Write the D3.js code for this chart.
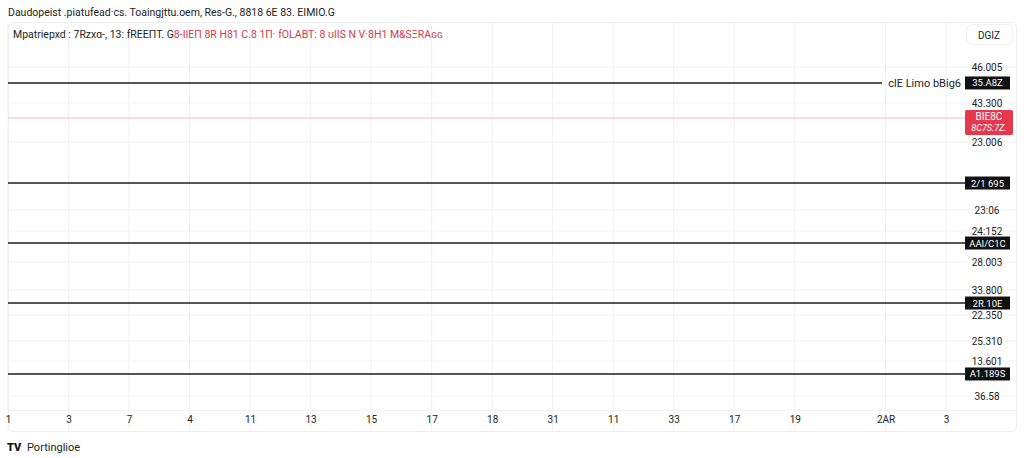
<!DOCTYPE html>
<html><head><meta charset="utf-8">
<script src="https://cdn.jsdelivr.net/npm/d3@7"></script>
<style>
html,body{margin:0;padding:0;background:#fff;}
svg{display:block;font-family:Roboto,"Liberation Sans",sans-serif;}
</style></head>
<body>
<svg id="c" width="1024" height="458"></svg>
<script>
// ---- data ----
const titleText = "Daudopeist .piatufead·cs. Toaingjttu.oem, Res-G., 8818 6E 83. ΕΙΜΙΟ.G";
const legendDark = "Mpatriepxd : 7Rzxɑ-, 13: fREEПT. G";
const legendRed = "8-IIEΠ 8R H81 C.8 1Π· fOLABT: 8 ʊIIS N V·8H1 M&SΞRAɢɢ";
const timeLabels = ["1","3","7","4","11","13","15","17","18","31","11","33","17","19","2AR","3"];
const timeIdx = [0,1,2,3,4,5,6,7,8,9,10,11,12,13,14.5,15.5];
const priceTicks = [44.75,42.15,39.34,34.43,32.92,30.68,28.66,26.86,24.98,23.54,21.00];
const priceTickLabels = ["46.005","43.300","23.006","23:06","24:152","28.003","33.800","22.350","25.310","13.601","36.58"];
const levelPrices = [43.60,36.38,32.05,27.72,22.60];
const levelTags = ["35.A8Z","2/1 695","AAI/C1C","2R.10E","A1.189S"];
const levelNotes = ["clE Limo bBig6","","","",""];
const lastPrice = 41.07;
const lastTag = ["BIE8C","8C7S:7Z."];
const corner = "DGIZ";
const footer = "Portinglioe";

// ---- layout ----
const svg = d3.select("#c");
const L = 8, R = 963, T = 22, B = 410;
const x = d3.scaleLinear().domain([0, 15.78]).range([L, R]);
const y = d3.scaleLinear().domain([20, 48]).range([B, T]);

// title
svg.append("text").attr("x",8).attr("y",16).attr("font-size",10.5).attr("fill","#222").text(titleText);

// pane border
svg.append("rect").attr("x",8.5).attr("y",22.5).attr("width",1008).attr("height",409)
  .attr("rx",5).attr("fill","none").attr("stroke","#ededed");

// grid
const g = svg.append("g");
g.selectAll(".vg").data(timeIdx).join("line")
  .attr("x1",d=>x(d)).attr("x2",d=>x(d)).attr("y1",T).attr("y2",432)
  .attr("stroke","#f0f0f0").attr("stroke-width",1);
g.selectAll(".hg").data(priceTicks).join("line")
  .attr("x1",L).attr("x2",1016).attr("y1",d=>y(d)).attr("y2",d=>y(d))
  .attr("stroke","#f3f3f3").attr("stroke-width",1);
svg.append("line").attr("x1",L).attr("x2",1016).attr("y1",B+0.5).attr("y2",B+0.5).attr("stroke","#f3f3f3");

// legend row
const lg = svg.append("text").attr("x",13).attr("y",38).attr("font-size",10.5);
lg.append("tspan").attr("fill","#222").text(legendDark);
lg.append("tspan").attr("fill","#d23a4f").text(legendRed);

// corner button
svg.append("rect").attr("x",966.5).attr("y",24.5).attr("width",46).attr("height",20).attr("rx",6)
  .attr("fill","#fff").attr("stroke","#efefef");
svg.append("text").attr("x",989).attr("y",39).attr("text-anchor","middle").attr("font-size",10).attr("fill","#222").text(corner);

// y-axis labels
const ya = d3.axisRight(y).tickValues(priceTicks).tickSize(0).tickPadding(0)
  .tickFormat((d,i)=>priceTickLabels[i]);
const yg = svg.append("g").attr("transform",`translate(987,0)`).call(ya);
yg.select(".domain").remove();
yg.selectAll("text").attr("text-anchor","middle").attr("font-size",10).attr("fill","#222")
  .attr("font-family","Roboto,'Liberation Sans',sans-serif");

// x-axis labels
const xa = d3.axisBottom(x).tickValues(timeIdx).tickSize(0).tickPadding(0)
  .tickFormat((d,i)=>timeLabels[i]);
const xg = svg.append("g").attr("transform",`translate(0,416)`).call(xa);
xg.select(".domain").remove();
xg.selectAll("text").attr("font-size",10).attr("fill","#222").attr("dy","0.71em")
  .attr("font-family","Roboto,'Liberation Sans',sans-serif");

// last price line
svg.append("line").attr("x1",L).attr("x2",965).attr("y1",y(lastPrice)).attr("y2",y(lastPrice))
  .attr("stroke","#efb9c0").attr("stroke-width",1);
const ly = y(lastPrice);
svg.append("rect").attr("x",965).attr("y",ly-8).attr("width",48).attr("height",25).attr("rx",2).attr("fill","#e5384c");
svg.append("text").attr("x",989).attr("y",ly+2).attr("text-anchor","middle").attr("font-size",10).attr("fill","#fff").text(lastTag[0]);
svg.append("text").attr("x",989).attr("y",ly+13).attr("text-anchor","middle").attr("font-size",9).attr("font-style","italic").attr("fill","#fff").text(lastTag[1]);

// levels
const lv = svg.append("g");
levelPrices.forEach((p,i)=>{
  const yy = y(p);
  const xEnd = levelNotes[i] ? 882 : 965;
  lv.append("line").attr("x1",L).attr("x2",xEnd).attr("y1",yy).attr("y2",yy)
    .attr("stroke","#1e1e1e").attr("stroke-width",1.6);
  if (levelNotes[i]) {
    lv.append("text").attr("x",961).attr("y",yy+4).attr("text-anchor","end").attr("font-size",11)
      .attr("fill","#222").text(levelNotes[i]);
  }
  lv.append("rect").attr("x",965).attr("y",yy-6.5).attr("width",45).attr("height",13).attr("fill","#111");
  lv.append("text").attr("x",987.5).attr("y",yy+3.5).attr("text-anchor","middle").attr("font-size",9.5)
    .attr("fill","#fff").text(levelTags[i]);
});

// footer
svg.append("text").attr("x",7).attr("y",451).attr("font-size",11).attr("font-weight","900").attr("fill","#111").text("TV");
svg.append("text").attr("x",27).attr("y",451).attr("font-size",11).attr("fill","#222").text(footer);
</script>
</body></html>
